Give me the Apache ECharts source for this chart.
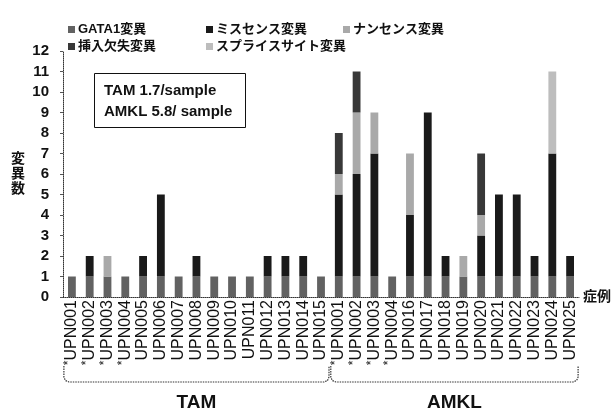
<!DOCTYPE html>
<html><head><meta charset="utf-8">
<script src="https://cdn.jsdelivr.net/npm/echarts@6/dist/echarts.min.js"></script>
<style>html,body{margin:0;padding:0;background:#fff}#c{width:614px;height:411px}</style>
</head><body><div id="c"></div>
<script>
const categories = ['*UPN001','*UPN002','*UPN003','*UPN004','UPN005','UPN006','UPN007','UPN008','UPN009','UPN010','UPN011','UPN012','UPN013','UPN014','UPN015',
  '*UPN001','*UPN002','*UPN003','*UPN004','UPN016','UPN017','UPN018','UPN019','UPN020','UPN021','UPN022','UPN023','UPN024','UPN025'];
const yTicks = [0,1,2,3,4,5,6,7,8,9,10,11,12];
const gata1    = [1,1,1,1,1,1,1,1,1,1,1,1,1,1,1, 1,1,1,1,1,1,1,1,1,1,1,1,1,1];
const missense = [0,1,0,0,1,4,0,1,0,0,0,1,1,1,0, 4,5,6,0,3,8,1,0,2,4,4,1,6,1];
const nonsense = [0,0,1,0,0,0,0,0,0,0,0,0,0,0,0, 1,3,2,0,3,0,0,1,1,0,0,0,0,0];
const indel    = [0,0,0,0,0,0,0,0,0,0,0,0,0,0,0, 2,2,0,0,0,0,0,0,3,0,0,0,0,0];
const splice   = [0,0,0,0,0,0,0,0,0,0,0,0,0,0,0, 0,0,0,0,0,0,0,0,0,0,0,0,4,0];
const seriesNames = ['GATA1変異','ミスセンス変異','ナンセンス変異','挿入欠失変異','スプライスサイト変異'];
const groupLabels = ['TAM','AMKL'];
const groupRanges = [[0,14],[15,28]];
const noteLines = ['TAM 1.7/sample','AMKL 5.8/ sample'];

const FONT = '"Liberation Sans","Noto Sans CJK JP",sans-serif';
const colors = ['#626262','#1a1a1a','#a9a9a9','#383838','#bdbdbd'];
const dataArr = [gata1, missense, nonsense, indel, splice];

const chart = echarts.init(document.getElementById('c'));
const legendPos = [[68,23],[206,23],[343,23],[68,40],[206,40]];
const legends = seriesNames.map((n,i)=>({
  data:[n], left:legendPos[i][0], top:legendPos[i][1], padding:0,
  icon:'rect', itemWidth:7, itemHeight:7, itemGap:0,
  textStyle:{fontFamily:FONT, fontSize:13, fontWeight:'bold', color:'#111', padding:[0,0,0,-2]},
  selectedMode:false
}));

chart.setOption({
  animation:false,
  color: colors,
  legend: legends,
  grid:{left:63, right:30, top:51, bottom:114, containLabel:false},
  xAxis:{
    type:'category', data:categories,
    axisLine:{lineStyle:{color:'#333', type:'dotted', width:1}},
    axisTick:{show:false},
    axisLabel:{rotate:90, interval:0, fontFamily:FONT, fontSize:16, color:'#111', margin:3,
      formatter:function(v){ return v.charAt(0)==='*' ? '{a|*}{b|'+v.slice(1)+'}' : '{b|'+v+'}'; },
      rich:{
        a:{fontFamily:FONT, fontSize:12, color:'#111', verticalAlign:'top', lineHeight:18},
        b:{fontFamily:FONT, fontSize:16, color:'#111', lineHeight:18}
      }
    },
    name:'症例', nameLocation:'end', nameGap:4,
    nameTextStyle:{fontFamily:FONT, fontSize:14, fontWeight:'bold', color:'#111', verticalAlign:'middle'}
  },
  yAxis:{
    type:'value', min:yTicks[0], max:yTicks[yTicks.length-1], interval:1,
    axisLine:{show:true, lineStyle:{color:'#333', type:'dotted'}},
    axisTick:{show:true, length:3, lineStyle:{color:'#555'}},
    splitLine:{show:false},
    axisLabel:{fontFamily:FONT, fontSize:15, fontWeight:'bold', color:'#111', margin:14},
    name:'変\n異\n数', nameLocation:'middle', nameRotate:0, nameGap:38,
    nameTextStyle:{fontFamily:FONT, fontSize:14, fontWeight:'bold', color:'#111', lineHeight:15, padding:[16,0,0,0]}
  },
  series: seriesNames.map((n,i)=>({
    name:n, type:'bar', stack:'all', data:dataArr[i], barWidth:'44%',
    itemStyle:{color:colors[i]}
  }))
});

function buildGraphics(){
  const g = [];
  const half = 8;
  const st = {stroke:'#333', lineWidth:1.2, lineDash:[1.5,1], fill:null};
  groupRanges.forEach((r,gi)=>{
    const x0 = chart.convertToPixel({xAxisIndex:0}, r[0]) - half;
    const x1 = chart.convertToPixel({xAxisIndex:0}, r[1]) + half;
    const yTop = 366, yBot = 382, rr = 5;
    const mid = (x0+x1)/2;
    g.push({type:'polyline', shape:{points:[[x0,yTop],[x0,yBot-rr],[x0+1.5,yBot-1.5],[x0+rr,yBot],[x1-rr,yBot],[x1-1.5,yBot-1.5],[x1,yBot-rr],[x1,yTop]]}, style:st});
    g.push({type:'text', x:mid, y:403, style:{text:groupLabels[gi], font:'bold 19px '+FONT, fill:'#111', align:'center', verticalAlign:'middle'}});
  });
  g.push({type:'rect', shape:{x:94.5, y:73.5, width:151, height:54}, style:{fill:'#fff', stroke:'#111', lineWidth:1}});
  g.push({type:'text', x:104, y:91, style:{text:noteLines[0], font:'bold 15px '+FONT, fill:'#111', verticalAlign:'middle'}});
  g.push({type:'text', x:104, y:112, style:{text:noteLines[1], font:'bold 15px '+FONT, fill:'#111', verticalAlign:'middle'}});
  chart.setOption({graphic:g});
}
buildGraphics();
</script></body></html>
